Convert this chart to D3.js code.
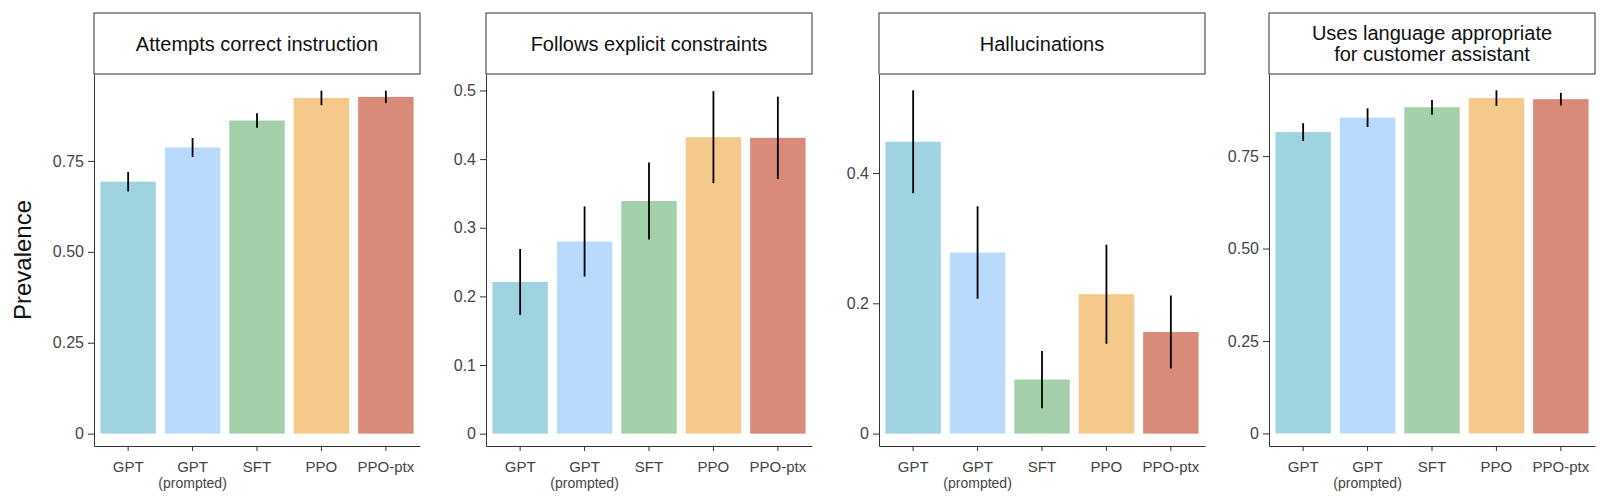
<!DOCTYPE html>
<html>
<head>
<meta charset="utf-8">
<script src="https://cdn.jsdelivr.net/npm/d3@7"></script>
<style>
  body { margin: 0; background: #fff; }
  text { font-family: "Liberation Sans", Arial, sans-serif; }
</style>
</head>
<body>
<svg id="chart" width="1600" height="501"></svg>
<script>
const models = ["GPT", "GPT (prompted)", "SFT", "PPO", "PPO-ptx"];
const colors = ["#9ed3df", "#b9dafc", "#a4cfab", "#f5c98c", "#d98a78"];

const titles = [
  ["Attempts correct instruction"],
  ["Follows explicit constraints"],
  ["Hallucinations"],
  ["Uses language appropriate", "for customer assistant"]
];
const values = [
  [0.693, 0.787, 0.861, 0.923, 0.926],
  [0.221, 0.280, 0.339, 0.432, 0.431],
  [0.448, 0.278, 0.083, 0.214, 0.156],
  [0.815, 0.854, 0.882, 0.907, 0.904]
];
const errors = [
  [0.027, 0.026, 0.020, 0.020, 0.017],
  [0.048, 0.051, 0.056, 0.067, 0.060],
  [0.079, 0.071, 0.044, 0.076, 0.056],
  [0.024, 0.025, 0.020, 0.021, 0.017]
];
const domains = [[-0.034, 0.989], [-0.018, 0.524], [-0.019, 0.552], [-0.034, 0.972]];
const ticks = [
  [0, 0.25, 0.5, 0.75],
  [0, 0.1, 0.2, 0.3, 0.4, 0.5],
  [0, 0.2, 0.4],
  [0, 0.25, 0.5, 0.75]
];
const tickFmt = [
  d => d === 0 ? "0" : d3.format(".2f")(d),
  d => d === 0 ? "0" : d3.format(".1f")(d),
  d => d === 0 ? "0" : d3.format(".1f")(d),
  d => d === 0 ? "0" : d3.format(".2f")(d)
];

const panelLeft = [94, 486, 879, 1269];
const panelW = 326;
const plotTop = 74, plotBottom = 446, stripTop = 13;

const svg = d3.select("#chart");

svg.append("text")
  .attr("transform", `translate(22,${(plotTop + plotBottom) / 2}) rotate(-90)`)
  .attr("text-anchor", "middle")
  .attr("dominant-baseline", "central")
  .attr("font-size", 24)
  .attr("fill", "#111")
  .text("Prevalence");

panelLeft.forEach((left, p) => {
  const g = svg.append("g").attr("transform", `translate(${left},0)`);

  const x = d3.scaleBand().domain(models).range([0, panelW])
    .paddingInner(0.14).paddingOuter(0.1);
  const y = d3.scaleLinear().domain(domains[p]).range([plotBottom, plotTop]);

  // strip
  g.append("rect")
    .attr("x", 0).attr("y", stripTop)
    .attr("width", panelW).attr("height", plotTop - stripTop)
    .attr("fill", "#fff").attr("stroke", "#333").attr("stroke-width", 1);
  const lines = titles[p];
  lines.forEach((t, i) => {
    g.append("text")
      .attr("x", panelW / 2)
      .attr("y", (stripTop + plotTop) / 2 + (i - (lines.length - 1) / 2) * 21)
      .attr("text-anchor", "middle")
      .attr("dominant-baseline", "central")
      .attr("font-size", 20)
      .attr("fill", "#111")
      .text(t);
  });

  // bars
  g.selectAll("rect.bar")
    .data(values[p])
    .enter()
    .append("rect")
    .attr("class", "bar")
    .attr("x", (d, i) => x(models[i]))
    .attr("width", x.bandwidth())
    .attr("y", d => y(d))
    .attr("height", d => y(0) - y(d))
    .attr("fill", (d, i) => colors[i]);

  // error bars
  g.selectAll("line.err")
    .data(values[p])
    .enter()
    .append("line")
    .attr("class", "err")
    .attr("x1", (d, i) => x(models[i]) + x.bandwidth() / 2)
    .attr("x2", (d, i) => x(models[i]) + x.bandwidth() / 2)
    .attr("y1", (d, i) => y(d - errors[p][i]))
    .attr("y2", (d, i) => y(d + errors[p][i]))
    .attr("stroke", "#000")
    .attr("stroke-width", 1.8);

  // y axis
  const yAxis = g.append("g")
    .call(d3.axisLeft(y).tickValues(ticks[p]).tickFormat(tickFmt[p]).tickSize(6).tickSizeOuter(0));
  yAxis.select(".domain").attr("stroke", "#333");
  yAxis.selectAll(".tick line").attr("stroke", "#333");
  yAxis.selectAll(".tick text").attr("font-size", 16).attr("fill", "#444")
    .attr("font-family", "Liberation Sans, Arial, sans-serif").attr("x", -10);

  // x axis
  const xAxis = g.append("g")
    .attr("transform", `translate(0,${plotBottom})`)
    .call(d3.axisBottom(x).tickSize(5).tickSizeOuter(0).tickFormat(""));
  xAxis.select(".domain").attr("stroke", "#333");
  xAxis.selectAll(".tick line").attr("stroke", "#333");
  models.forEach(m => {
    const parts = m === "GPT (prompted)" ? ["GPT", "(prompted)"] : [m];
    parts.forEach((t, i) => {
      g.append("text")
        .attr("x", x(m) + x.bandwidth() / 2)
        .attr("y", 472 + i * 16)
        .attr("text-anchor", "middle")
        .attr("font-size", i === 0 ? 15 : 14)
        .attr("fill", "#444")
        .text(t);
    });
  });
});
</script>
</body>
</html>
